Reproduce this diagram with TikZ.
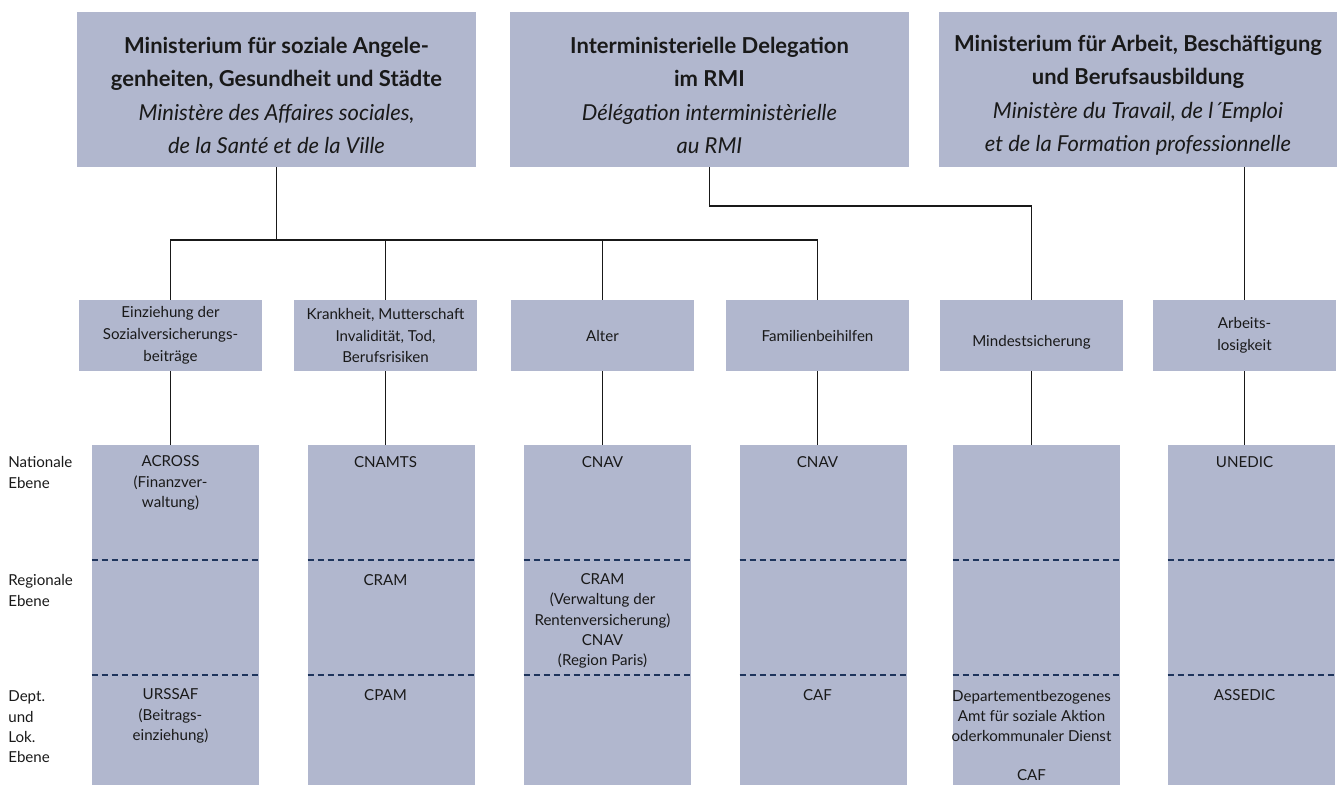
\documentclass[tikz,border=0pt]{standalone}
\usepackage{fontspec}
\setmainfont{Lato}
\usepackage{tikz}
\usetikzlibrary{positioning}
\definecolor{boxgray}{RGB}{177,183,206}
\definecolor{lvlnavy}{RGB}{30,52,92}
\definecolor{txtblack}{RGB}{25,25,25}
\newcommand{\lift}{\rule{0pt}{16pt}}
\tikzstyle{ministry} = [fill=boxgray, minimum width=7.98cm, minimum height=3.1cm, align=center, text=txtblack, font=\fontsize{12.5}{19}\selectfont]
\tikzstyle{branch} = [fill=boxgray, minimum width=3.66cm, minimum height=1.42cm, align=center, text=txtblack, font=\fontsize{8.6}{12.4}\selectfont]
\tikzstyle{body} = [fill=boxgray, minimum width=3.34cm, minimum height=6.8cm, inner sep=0pt]
\tikzstyle{intext} = [align=center, inner sep=0pt, text=txtblack, font=\fontsize{8.6}{11.6}\selectfont]
\tikzstyle{level} = [anchor=west, align=left, inner sep=0pt, text=txtblack, font=\fontsize{8.6}{11.6}\selectfont]
\tikzstyle{link} = [line width=1pt, color=txtblack]
\tikzstyle{cut} = [dash pattern=on 3.4pt off 2.3pt, line width=0.75pt, color=lvlnavy]

\begin{document}
\begin{tikzpicture}[x=0.02cm, y=-0.02cm]
\useasboundingbox (0,0) rectangle (1340,787);

% Ministries
\node[ministry] (minA) at (276.5,89.5) {\lift\textbf{Ministerium für soziale Angele-}\\\textbf{genheiten, Gesundheit und Städte}\\\textit{Ministère des Affaires sociales,}\\\textit{de la Santé et de la Ville}};
\node[ministry] (dele) at (709.5,89.5) {\lift\textbf{Interministerielle Delegation}\\\textbf{im RMI}\\\textit{Délégation interministèrielle}\\\textit{au RMI}};
\node[ministry] (minB) at (1138,89.5) {\lift\textbf{Ministerium für Arbeit, Beschäftigung}\\\textbf{und Berufsausbildung}\\\textit{Ministère du Travail, de l´Emploi}\\\textit{et de la Formation professionnelle}};

% Branches
\node[branch] (m1) at (170.5,335.5) {Einziehung der\\Sozialversicherungs-\\beiträge};
\node[branch] (m2) at (385.5,335.5) {Krankheit, Mutterschaft\\Invalidität, Tod,\\Berufsrisiken};
\node[branch] (m3) at (602.5,335.5) {Alter};
\node[branch] (m4) at (817.5,335.5) {Familienbeihilfen};
\node[branch, text height=12.5pt, text depth=0pt] (m5) at (1031.5,335.5) {Mindestsicherung};
\node[branch] (m6) at (1244.5,335.5) {Arbeits-\\losigkeit};

% Connectors
\coordinate (bus) at (276.5,240);
\coordinate (knee) at (709.5,206);
\draw[link] (minA.south) -- (bus);
\draw[link] (m1.north) |- (m4.north |- bus) -- (m4.north);
\draw[link] (m2.north) -- (m2.north |- bus);
\draw[link] (m3.north) -- (m3.north |- bus);
\draw[link] (dele.south) |- (m5.north |- knee) -- (m5.north);
\draw[link] (m6.north) -- (m6.north |- minB.south);

% Institutions
\foreach \i/\x in {1/175.5,2/391.5,3/607.5,4/823.5,5/1036.5,6/1251.5} {
  \node[body] (b\i) at (\x,615) {};
  \draw[cut] (b\i.west |- 0,560) -- (b\i.east |- 0,560);
  \draw[cut] (b\i.west |- 0,675) -- (b\i.east |- 0,675);
  \draw[link] (m\i.south) -- (m\i.south |- b\i.north);
}

% Levels
\node[level] (natl) at (8,472.5) {Nationale\\Ebene};
\node[level] (regl) at (8,590.5) {Regionale\\Ebene};
\node[level] (locl) at (8,727) {Dept.\\und\\Lok.\\Ebene};

% Texts in the columns
\node[intext] (t1n) at (m1.south |- 0,483) {ACROSS\\(Finanzver-\\waltung)};
\node[intext] (t1l) at (m1.south |- 0,716) {URSSAF\\(Beitrags-\\einziehung)};
\node[intext] (t2n) at (m2.south |- 0,462) {CNAMTS};
\node[intext] (t2r) at (m2.south |- 0,580) {CRAM};
\node[intext] (t2l) at (m2.south |- 0,695) {CPAM};
\node[intext] (t3n) at (m3.south |- 0,462) {CNAV};
\node[intext] (t3r) at (m3.south |- 0,621) {CRAM\\(Verwaltung der\\Rentenversicherung)\\CNAV\\(Region Paris)};
\node[intext] (t4n) at (m4.south |- 0,462) {CNAV};
\node[intext] (t4l) at (m4.south |- 0,695) {CAF};
\node[intext] (t5l) at (m5.south |- 0,716) {Departementbezogenes\\Amt für soziale Aktion\\oderkommunaler Dienst};
\node[intext] (t5c) at (m5.south |- 0,775) {CAF};
\node[intext] (t6n) at (m6.south |- 0,462) {UNEDIC};
\node[intext] (t6l) at (m6.south |- 0,695) {ASSEDIC};
\end{tikzpicture}
\end{document}
